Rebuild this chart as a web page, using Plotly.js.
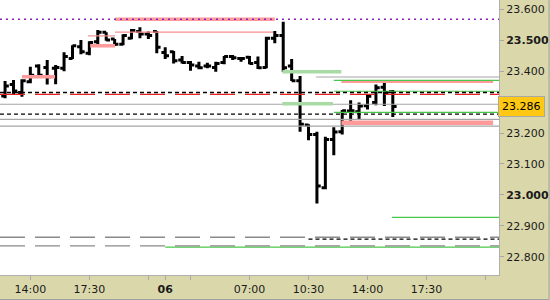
<!DOCTYPE html>
<html>
<head>
<meta charset="utf-8">
<script src="https://cdn.plot.ly/plotly-3.0.1.min.js"></script>
<style>
html,body{margin:0;padding:0;background:#dad8aa;}
#chart{width:550px;height:300px;}
</style>
</head>
<body>
<div id="chart"></div>
<script>
// ---- bar slots (30-minute bars; overnight gap removed) ----
const slots = [-3,-2,-1,0,1,2,3,4,5,6,7,8,9,10,11,12,13,14,15,16,17,18,19,20,21,22,23,24,25,26,27,28,29,30,31,32,33,34,35,36,37,38,39,40,41,42,43];
const opens  = [23.320,23.357,23.331,23.366,23.417,23.412,23.409,23.409,23.441,23.479,23.458,23.495,23.526,23.504,23.487,23.506,23.528,23.520,23.528,23.460,23.463,23.436,23.428,23.417,23.417,23.412,23.428,23.447,23.441,23.445,23.428,23.412,23.506,23.515,23.417,23.369,23.226,23.195,23.023,23.179,23.204,23.271,23.269,23.288,23.299,23.348,23.333];
const highs  = [23.368,23.371,23.374,23.414,23.422,23.436,23.420,23.461,23.484,23.501,23.497,23.533,23.526,23.504,23.519,23.536,23.542,23.528,23.530,23.477,23.465,23.449,23.433,23.430,23.427,23.430,23.449,23.452,23.445,23.449,23.447,23.511,23.530,23.560,23.439,23.384,23.228,23.204,23.188,23.219,23.274,23.306,23.299,23.325,23.357,23.364,23.339];
const lows   = [23.312,23.326,23.317,23.361,23.382,23.357,23.358,23.400,23.439,23.455,23.451,23.487,23.498,23.481,23.484,23.503,23.506,23.504,23.458,23.439,23.425,23.425,23.401,23.406,23.409,23.398,23.422,23.436,23.430,23.422,23.407,23.409,23.490,23.398,23.368,23.204,23.177,22.972,23.018,23.128,23.195,23.240,23.245,23.276,23.290,23.287,23.252];
const closes = [23.352,23.336,23.369,23.387,23.387,23.382,23.412,23.447,23.482,23.463,23.493,23.526,23.501,23.487,23.515,23.531,23.520,23.515,23.477,23.450,23.434,23.428,23.420,23.411,23.417,23.425,23.447,23.443,23.441,23.425,23.411,23.506,23.515,23.411,23.369,23.228,23.195,23.029,23.179,23.203,23.272,23.272,23.287,23.319,23.346,23.331,23.286];
const lastPrice = 23.286;

// ---- axis ticks ----
const xTickSlots  = [0,7,14,16,19,26,33,40,47,54];
const xTickLabels = ['14:00','17:30','','<b>06</b>','','07:00','10:30','14:00','17:30',''];
const yTickValues = [22.8,22.9,23.0,23.1,23.2,23.4,23.5,23.6];
const yTickLabels = ['22.800','22.900','<b>23.000</b>','23.100','23.200','23.400','<b>23.500</b>','23.600'];

// ---- horizontal levels (null = spans whole chart) ----
const levelPrice = [23.293,23.244,23.222,23.381,23.568,23.526,23.514,23.482,23.382,23.366,23.233,23.398,23.295,23.370,23.335,23.267,22.927,22.831,22.863,22.835,23.325,23.331,23.261,22.857,23.568];
const levelFrom  = [null,null,null,33.9,10.05,10.05,6.85,7.1,-1.0,36.9,36.9,29.9,29.9,36.0,36.0,36.0,42.9,16.0,null,null,null,null,null,33.0,null];
const levelTo    = [null,null,null,null,29.0,28.8,10.05,10.05,2.93,54.9,54.9,36.9,35.9,null,null,null,null,null,null,null,null,null,null,null,null];
const levelKind  = ['grey','grey','grey','grey','redBand','redThin','redThin','redBand','redBand','redBandNarrow','redBandWide','greenBand','greenBand','greenThin','greenThin','greenThin','greenThin','greenThin','greyLongDash','greyLongDash','redDash','blackDash','blackDash','blackDash','purpleDot'];

const X_MIN = -3.6, X_MAX = 55.6;
const Y_MIN = 22.741, Y_MAX = 23.630;

const styles = {
  grey:         {color:'#a6a6a6', width:1.2},
  redBand:      {color:'#ff9a9a', width:3.5},
  redBandNarrow:{color:'#ff9a9a', width:2.5},
  redBandWide:  {color:'#ff9a9a', width:4.5},
  redThin:      {color:'#f39090', width:1.2},
  greenBand:    {color:'#a8dca4', width:3.5},
  greenThin:    {color:'#48c848', width:1.2},
  greyLongDash: {color:'#8a8a8a', width:1.3, dash:'25px,10px'},
  redDash:      {color:'#e82020', width:1.3, dash:'25px,10px'},
  blackDash:    {color:'#000000', width:1.3, dash:'4px,3px'},
  purpleDot:    {color:'#8a20c8', width:1.5, dash:'2px,4px'}
};

function levelTrace(i){
  const st = styles[levelKind[i]];
  const x0 = levelFrom[i] === null ? X_MIN : levelFrom[i];
  const x1 = levelTo[i] === null ? X_MAX : levelTo[i];
  return {type:'scatter', mode:'lines', x:[x0,x1], y:[levelPrice[i],levelPrice[i]], hoverinfo:'skip', showlegend:false,
    line:{color:st.color, width:st.width, dash:st.dash||'solid'}};
}

const traces = [];
levelPrice.forEach((p,i)=>{ if (levelKind[i] !== 'purpleDot') traces.push(levelTrace(i)); });

traces.push({
  type:'ohlc', x:slots, open:opens, high:highs, low:lows, close:closes,
  increasing:{line:{color:'#000', width:3}},
  decreasing:{line:{color:'#000', width:3}},
  tickwidth:0.45, hoverinfo:'skip', showlegend:false
});

levelPrice.forEach((p,i)=>{ if (levelKind[i] === 'purpleDot') traces.push(levelTrace(i)); });

const font = {family:'DejaVu Sans, Verdana, sans-serif', size:11, color:'#1a1a1a'};

const layout = {
  width:550, height:300,
  margin:{l:0, r:51, t:0, b:25, pad:0},
  paper_bgcolor:'#dad8aa', plot_bgcolor:'#ffffff',
  font:font, showlegend:false, dragmode:false,
  xaxis:{
    range:[X_MIN, X_MAX], rangeslider:{visible:false},
    tickmode:'array', tickvals:xTickSlots, ticktext:xTickLabels,
    ticks:'outside', ticklen:4, tickcolor:'#a8a8a8', tickwidth:1,
    showline:true, linecolor:'#b0b0b0', linewidth:1,
    showgrid:false, zeroline:false, tickfont:font, fixedrange:true
  },
  yaxis:{
    side:'right', range:[Y_MIN, Y_MAX],
    tickmode:'array', tickvals:yTickValues, ticktext:yTickLabels,
    ticks:'outside', ticklen:4, tickcolor:'#a8a8a8', tickwidth:1,
    showline:true, linecolor:'#b0b0b0', linewidth:1,
    showgrid:false, zeroline:false, tickfont:font, fixedrange:true
  },
  annotations:[{
    xref:'paper', yref:'y', x:1, y:lastPrice, xanchor:'left', yanchor:'middle',
    xshift:-1, text:lastPrice.toFixed(3), showarrow:false,
    bgcolor:'#ffc814', bordercolor:'#a8a8a8', borderwidth:1, borderpad:3,
    font:{family:'DejaVu Sans, Verdana, sans-serif', size:11, color:'#000'}
  }],
  shapes:[
    {type:'line', xref:'paper', yref:'y', x0:1, x1:1.008, y0:lastPrice, y1:lastPrice, line:{color:'#000', width:1}},
    {type:'line', xref:'paper', yref:'paper', x0:1.1003, x1:1.1003, y0:-0.0891, y1:1, line:{color:'#a0a0a0', width:1}},
    {type:'line', xref:'paper', yref:'paper', x0:0, x1:1.1003, y0:-0.0891, y1:-0.0891, line:{color:'#a0a0a0', width:1}}
  ]
};

Plotly.newPlot('chart', traces, layout, {staticPlot:true, displayModeBar:false});
</script>
</body>
</html>
